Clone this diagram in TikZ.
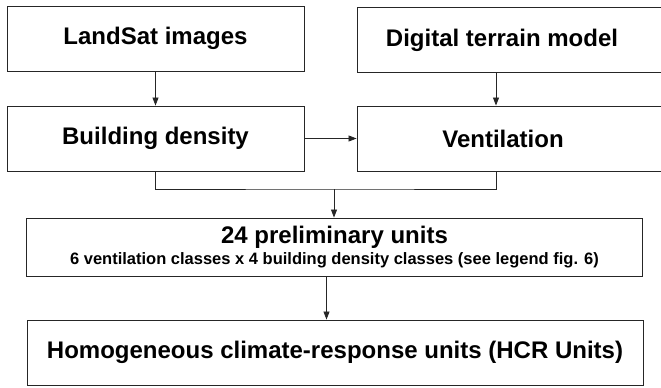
\documentclass[tikz,border=0pt]{standalone}
\usepackage{fontspec}
\setmainfont{Liberation Sans}
\usetikzlibrary{arrows.meta}

\begin{document}
\begin{tikzpicture}[
x=1pt, y=-1pt,
every node/.style={draw=black!85, line width=0.9pt, inner sep=0pt, fill=white, font=\bfseries\fontsize{24}{28}\selectfont},
src/.style={minimum width=297pt, minimum height=65pt},
rgt/.style={minimum width=306pt, minimum height=65pt},
unit/.style={minimum width=616pt, align=center},
arr/.style={-{Triangle[length=8pt,width=6pt]}, line width=0.8pt, black!85}
]
\useasboundingbox (0,0) rectangle (661,388);

\node[src] at (155.5,38.5) (land) {LandSat images};
\node[rgt] at (510,40) (dtm) {\hspace*{-16pt}Digital terrain model};
\node[src] at (155.5,138.5) (bld) {Building density};
\node[rgt] at (510,138.5) (ven) {\hspace*{-14pt}Ventilation};
\node[unit, minimum height=58pt] at (334.5,247) (prel) {24 preliminary units\\[-7pt]
  {\fontsize{16.5}{18}\selectfont 6 ventilation classes x 4 building density classes (see legend fig. 6)}};
\node[unit, minimum height=65pt] at (335,352.5) (hcr) {Homogeneous climate-response units (HCR Units)};

\coordinate (dv) at (496,0);
\coordinate (join) at (334,189);

\draw[arr] (land) -- (bld);
\draw[arr] (dtm.south -| dv) -- (ven.north -| dv);
\draw[arr] (bld) -- (ven);
\draw[line width=0.8pt, black!85] (bld.south) |- (join) -| (ven.south -| dv);
\draw[arr] (join) -- (prel.north -| join);
\draw[arr] ([xshift=-8pt]prel.south) -- ([xshift=-8pt]prel.south |- hcr.north);

\end{tikzpicture}
\end{document}
